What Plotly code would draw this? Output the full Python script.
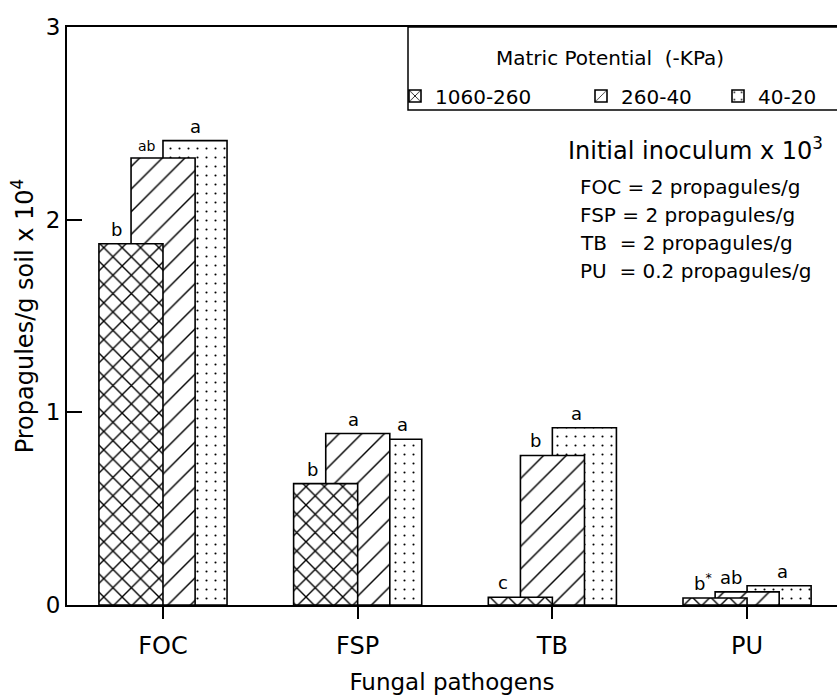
import plotly.graph_objects as go

# ---- data ----
categories = ["FOC", "FSP", "TB", "PU"]
series_names = ["1060-260", "260-40", "40-20"]
v_1060_260 = [1.875, 0.63, 0.04, 0.036]
v_260_40 = [2.32, 0.89, 0.776, 0.068]
v_40_20 = [2.41, 0.86, 0.92, 0.10]
letters_1060_260 = ["b", "b", "c", "b<sup>*</sup>"]
letters_260_40 = ["ab", "a", "b", "ab"]
letters_40_20 = ["a", "a", "a", "a"]
y_ticks = [0, 1, 2, 3]
legend_title = "Matric Potential\u00a0\u00a0(-KPa)"
inoculum_title = "Initial inoculum x 10<sup>3</sup>"
inoculum_lines = [
    "FOC = 2 propagules/g",
    "FSP = 2 propagules/g",
    "TB\u00a0\u00a0= 2 propagules/g",
    "PU\u00a0\u00a0= 0.2 propagules/g",
]

# ---- styling ----
FONT = "DejaVu Sans, Verdana, sans-serif"
W, H = 837, 695
ML, MR, MT, MB = 67, 0, 27, 90
bar_w = 0.329
offsets = [-0.329, -0.164, 0.0]
patterns = [dict(shape="x", size=13, solidity=0.2),
            dict(shape="/", size=16, solidity=0.09),
            dict(shape=".", size=9, solidity=0.045)]
values = [v_1060_260, v_260_40, v_40_20]
letters = [letters_1060_260, letters_260_40, letters_40_20]
letter_xshift = [[-14, -13, -17, -12],
                 [-16, -4, -17, -16],
                 [0, 13, -8, 3]]
letter_size = [[18, 18, 18, 18],
               [14, 18, 18, 18],
               [18, 18, 18, 18]]
legend_keys = ["legend", "legend2", "legend3"]
legend_x_px = [395, 581, 718]

xpos = list(range(len(categories)))

pw = W - ML - MR
ph = H - MT - MB
def px_x(p):
    return (p - ML) / pw
def px_y(p):
    return 1 - (p - MT) / ph

fig = go.Figure()
# draw back-to-front: 40-20, 260-40, 1060-260
for i in [2, 1, 0]:
    fig.add_trace(go.Bar(
        x=xpos, y=values[i], name=series_names[i],
        width=bar_w, offset=offsets[i],
        marker=dict(color="white",
                    line=dict(color="black", width=1.6),
                    pattern=dict(fgcolor="black", bgcolor="white",
                                 fgopacity=1, fillmode="replace",
                                 **patterns[i])),
        legend=legend_keys[i],
    ))

annotations = []
for i in range(3):
    for j, cat in enumerate(categories):
        annotations.append(dict(
            x=xpos[j] + offsets[i] + bar_w / 2, y=values[i][j],
            xref="x", yref="y", text=letters[i][j], showarrow=False,
            yanchor="bottom", xanchor="center", yshift=2,
            xshift=letter_xshift[i][j],
            font=dict(family=FONT, size=letter_size[i][j], color="black")))

annotations.append(dict(x=px_x(494), y=px_y(58), xref="paper", yref="paper",
                        text=legend_title, showarrow=False, xanchor="left",
                        yanchor="middle",
                        font=dict(family=FONT, size=20, color="black")))
annotations.append(dict(x=px_x(566), y=px_y(149), xref="paper", yref="paper",
                        text=inoculum_title, showarrow=False, xanchor="left",
                        yanchor="middle",
                        font=dict(family=FONT, size=24, color="black")))
line_y = [187, 215, 243, 271]
for t, yy in zip(inoculum_lines, line_y):
    annotations.append(dict(x=px_x(578), y=px_y(yy), xref="paper", yref="paper",
                            text=t, showarrow=False, xanchor="left",
                            yanchor="middle",
                            font=dict(family=FONT, size=20, color="black")))

legend_common = dict(orientation="h", xanchor="left", yanchor="middle",
                     font=dict(family=FONT, size=20, color="black"),
                     bgcolor="rgba(0,0,0,0)", borderwidth=0, itemwidth=30)
legend_layout = {}
for k, xp in zip(legend_keys, legend_x_px):
    legend_layout[k] = dict(x=px_x(xp), y=px_y(96), **legend_common)

fig.update_layout(
    width=W, height=H,
    margin=dict(l=ML, r=MR, t=MT, b=MB, autoexpand=False),
    paper_bgcolor="white", plot_bgcolor="white",
    barmode="overlay",
    font=dict(family=FONT, color="black"),
    showlegend=True,
    annotations=annotations,
    shapes=[dict(type="rect", xref="paper", yref="paper",
                 x0=px_x(408), x1=1.05, y0=px_y(110), y1=1.0,
                 line=dict(color="black", width=1.5), layer="above")],
    xaxis=dict(range=[-0.493, 3.462], tickvals=xpos, ticktext=categories,
               showline=True, linecolor="black", linewidth=2, mirror=True,
               ticks="outside", ticklen=12, tickwidth=1.5, tickcolor="black",
               showgrid=False, zeroline=False,
               tickfont=dict(family=FONT, size=24, color="black"),
               ticklabelstandoff=6,
               title=dict(text="Fungal pathogens", standoff=19,
                          font=dict(family=FONT, size=23, color="black"))),
    yaxis=dict(range=[0, 3], tickvals=y_ticks,
               showline=True, linecolor="black", linewidth=2, mirror=False,
               ticks="inside", ticklen=15, tickwidth=1.5, tickcolor="black",
               showgrid=False, zeroline=False,
               tickfont=dict(family=FONT, size=23, color="black"),
               ticklabelstandoff=0,
               title=dict(text="Propagules/g soil x 10<sup>4</sup>", standoff=5,
                          font=dict(family=FONT, size=24, color="black"))),
    **legend_layout,
)

fig.write_html(
    "out.html",
    config={"displayModeBar": False},
    post_script="document.body.style.margin='0';document.body.style.overflow='hidden';",
)
